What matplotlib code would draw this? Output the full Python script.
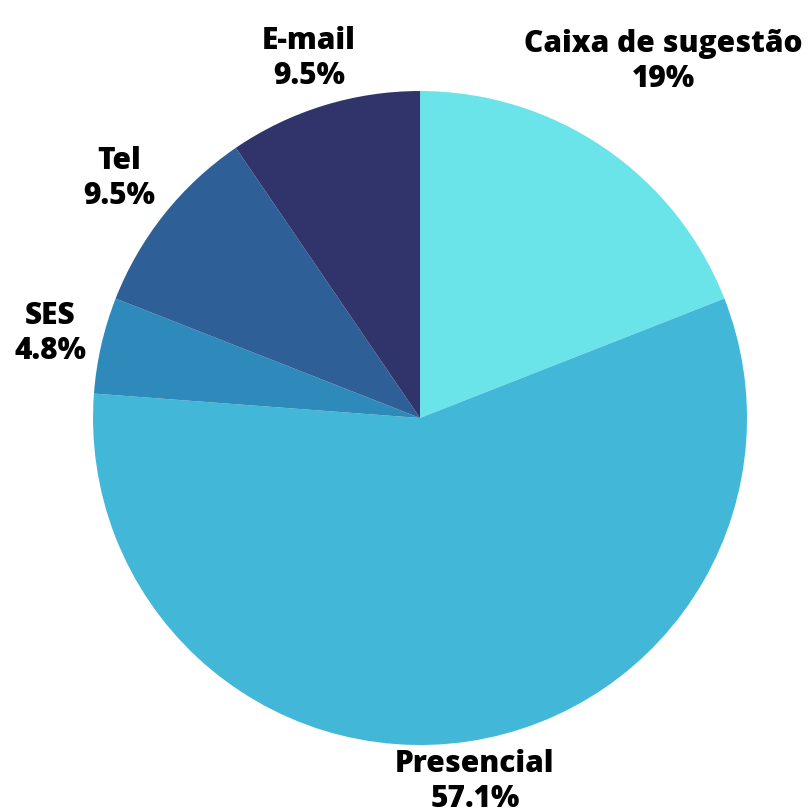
import numpy as np
import matplotlib
matplotlib.use('Agg')
import matplotlib.pyplot as plt

# data (counts out of 21 answers)
categories = ['Caixa de sugestão', 'Presencial', 'SES', 'Tel', 'E-mail']
counts = [4, 12, 1, 2, 2]
colors = ['#6ae4e8', '#42b7d7', '#2e8aba', '#2e5f97', '#30346b']
label_dist = [1.32, 1.125, 1.16, 1.175, 1.15]

plt.rcParams['font.family'] = ['Open Sans', 'DejaVu Sans']

fig = plt.figure(figsize=(8.11, 8.09), dpi=100)
ax = fig.add_axes([0.1147, 0.0791, 0.8064, 0.8084])

wedges, _ = ax.pie(counts, colors=colors, startangle=90, counterclock=False,
                   radius=1.0, wedgeprops=dict(linewidth=0))

total = sum(counts)
for w, name, c, d in zip(wedges, categories, counts, label_dist):
    ang = np.radians((w.theta1 + w.theta2) / 2)
    pct = 100 * c / total
    txt = f'{pct:.1f}%'.replace('.0%', '%')
    ax.text(d * np.cos(ang), d * np.sin(ang), f'{name}\n{txt}',
            ha='center', va='center', fontsize=21.5, fontweight=800,
            linespacing=1.2, color='black')

ax.set_xlim(-1, 1)
ax.set_ylim(-1, 1)
ax.set_aspect('equal')
ax.axis('off')

fig.savefig('out.png', dpi=100)
